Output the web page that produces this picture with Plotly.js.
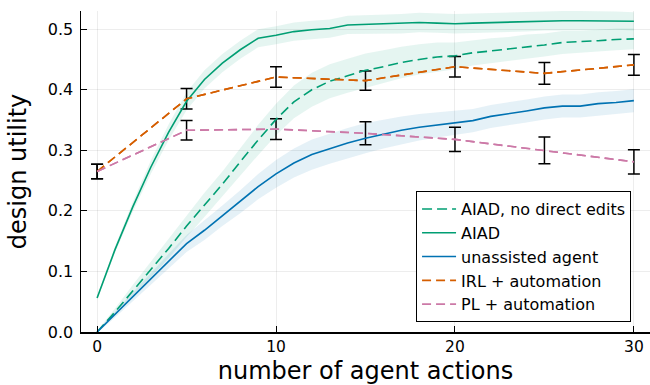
<!DOCTYPE html>
<html>
<head>
<meta charset="utf-8">
<script src="https://cdn.plot.ly/plotly-3.0.1.min.js"></script>
<style>html,body{margin:0;padding:0;background:#fff;}#chart{width:650px;height:385px;}</style>
</head>
<body>
<div id="chart"></div>
<script>
// ---- data ----
const steps = [0,1,2,3,4,5,6,7,8,9,10,11,12,13,14,15,16,17,18,19,20,21,22,23,24,25,26,27,28,29,30];

const aiadNoEdits = [0.000,0.033,0.068,0.103,0.138,0.175,0.210,0.244,0.281,0.317,0.351,0.380,0.400,0.414,0.423,0.432,0.438,0.445,0.450,0.454,0.456,0.461,0.464,0.467,0.471,0.474,0.478,0.479,0.481,0.483,0.484];
const aiadNoEditsBand = [0.002,0.006,0.010,0.013,0.016,0.018,0.020,0.021,0.023,0.025,0.026,0.027,0.028,0.028,0.028,0.028,0.027,0.026,0.025,0.024,0.022,0.021,0.021,0.020,0.020,0.019,0.019,0.018,0.018,0.018,0.017];

const aiad = [0.056,0.136,0.207,0.272,0.330,0.381,0.417,0.444,0.466,0.485,0.490,0.496,0.499,0.501,0.507,0.508,0.508,0.509,0.511,0.510,0.509,0.510,0.511,0.511,0.512,0.514,0.514,0.514,0.514,0.514,0.513];
const aiadBand = [0.003,0.005,0.008,0.011,0.013,0.015,0.015,0.015,0.015,0.015,0.015,0.015,0.015,0.015,0.015,0.015,0.015,0.016,0.016,0.016,0.016,0.016,0.016,0.016,0.016,0.016,0.016,0.016,0.016,0.015,0.015];

const unassisted = [0.000,0.029,0.058,0.088,0.117,0.146,0.168,0.192,0.215,0.240,0.261,0.279,0.293,0.303,0.312,0.320,0.327,0.333,0.338,0.342,0.346,0.349,0.356,0.360,0.365,0.370,0.373,0.373,0.377,0.379,0.382];
const unassistedBand = [0.002,0.005,0.008,0.010,0.012,0.014,0.016,0.017,0.019,0.021,0.023,0.024,0.025,0.025,0.025,0.025,0.024,0.023,0.022,0.021,0.020,0.019,0.019,0.019,0.019,0.019,0.019,0.019,0.019,0.019,0.019];

const baselineSteps = [0,5,10,15,20,25,30];
const irl = [0.265,0.385,0.421,0.415,0.438,0.427,0.441];
const irlErr = [0.012,0.017,0.017,0.016,0.017,0.018,0.017];
const pl = [0.265,0.333,0.335,0.328,0.318,0.300,0.281];
const plErr = [0.012,0.016,0.017,0.019,0.020,0.022,0.020];

const seriesNames = ["AIAD, no direct edits","AIAD","unassisted agent","IRL + automation","PL + automation"];
const xTicks = [0,10,20,30];
const yTicks = [0.0,0.1,0.2,0.3,0.4,0.5];

// ---- styles ----
const GREEN = "#009E73", BLUE = "#0072B2", ORANGE = "#D55E00", PINK = "#CC79A7";
const FONT = "DejaVu Sans";

function band(x, y, h, fill){
  const xs = x.concat(x.slice().reverse());
  const up = y.map((v,i)=>v+h[i]);
  const lo = y.map((v,i)=>v-h[i]).reverse();
  return {x: xs, y: up.concat(lo), type:"scatter", mode:"lines", fill:"toself",
          fillcolor: fill, line:{width:0, color:"rgba(0,0,0,0)"}, hoverinfo:"skip", showlegend:false};
}

const traces = [
  band(steps, aiadNoEdits, aiadNoEditsBand, "rgba(0,158,115,0.10)"),
  band(steps, aiad, aiadBand, "rgba(0,158,115,0.10)"),
  band(steps, unassisted, unassistedBand, "rgba(0,114,178,0.10)"),
  {x: baselineSteps, y: irl, name: seriesNames[3], type:"scatter", mode:"lines",
   line:{color:ORANGE, width:1.6, dash:"9px,5px"}, showlegend:false,
   error_y:{type:"data", array: irlErr, visible:true, color:"#000", thickness:1.5, width:6}},
  {x: baselineSteps, y: pl, name: seriesNames[4], type:"scatter", mode:"lines",
   line:{color:PINK, width:1.6, dash:"9px,5px"}, showlegend:false,
   error_y:{type:"data", array: plErr, visible:true, color:"#000", thickness:1.5, width:6}},
  {x: steps, y: aiadNoEdits, name: seriesNames[0], type:"scatter", mode:"lines",
   line:{color:GREEN, width:1.6, dash:"10px,5px"}, legendrank:1},
  {x: steps, y: aiad, name: seriesNames[1], type:"scatter", mode:"lines",
   line:{color:GREEN, width:1.6}, legendrank:2},
  {x: steps, y: unassisted, name: seriesNames[2], type:"scatter", mode:"lines",
   line:{color:BLUE, width:1.6}, legendrank:3},
  {x: baselineSteps, y: irl, name: seriesNames[3], type:"scatter", mode:"lines",
   line:{color:ORANGE, width:1.6, dash:"9px,5px"}, legendrank:4, hoverinfo:"skip"},
  {x: baselineSteps, y: pl, name: seriesNames[4], type:"scatter", mode:"lines",
   line:{color:PINK, width:1.6, dash:"9px,5px"}, legendrank:5, hoverinfo:"skip"}
];

const layout = {
  width: 650, height: 385,
  margin: {l:81, r:0, t:11, b:53, pad:0},
  paper_bgcolor: "#fff", plot_bgcolor: "#fff",
  font: {family: FONT, color: "#000"},
  showlegend: true,
  legend: {x: 0.9667, y: 0.031, xanchor: "right", yanchor: "bottom",
           bgcolor: "#fff", bordercolor: "#000", borderwidth: 1, itemwidth: 34,
           font: {family: FONT, size: 16, color: "#000"}, traceorder: "normal"},
  xaxis: {range: [-0.9, 30.9], tickvals: xTicks, ticktext: xTicks.map(String),
          ticks: "inside", ticklen: 6, tickwidth: 1, tickcolor: "#000",
          showline: true, linecolor: "#000", linewidth: 1.5, mirror: false,
          showgrid: true, gridcolor: "rgba(0,0,0,0.07)", gridwidth: 1, zeroline: false,
          tickfont: {family: FONT, size: 15.5}, automargin: false,
          title: {text: "number of agent actions", font: {family: FONT, size: 24}, standoff: 8}},
  yaxis: {range: [0, 0.53], tickvals: yTicks, ticktext: yTicks.map(v=>v.toFixed(1)),
          ticks: "inside", ticklen: 6, tickwidth: 1, tickcolor: "#000",
          showline: true, linecolor: "#000", linewidth: 1.5, mirror: false,
          showgrid: true, gridcolor: "rgba(0,0,0,0.07)", gridwidth: 1, zeroline: false,
          tickfont: {family: FONT, size: 16}, automargin: false, ticklabelstandoff: 3,
          title: {text: "design utility", font: {family: FONT, size: 24}, standoff: 14}}
};

Plotly.newPlot("chart", traces, layout, {displayModeBar: false, staticPlot: true});
</script>
</body>
</html>
